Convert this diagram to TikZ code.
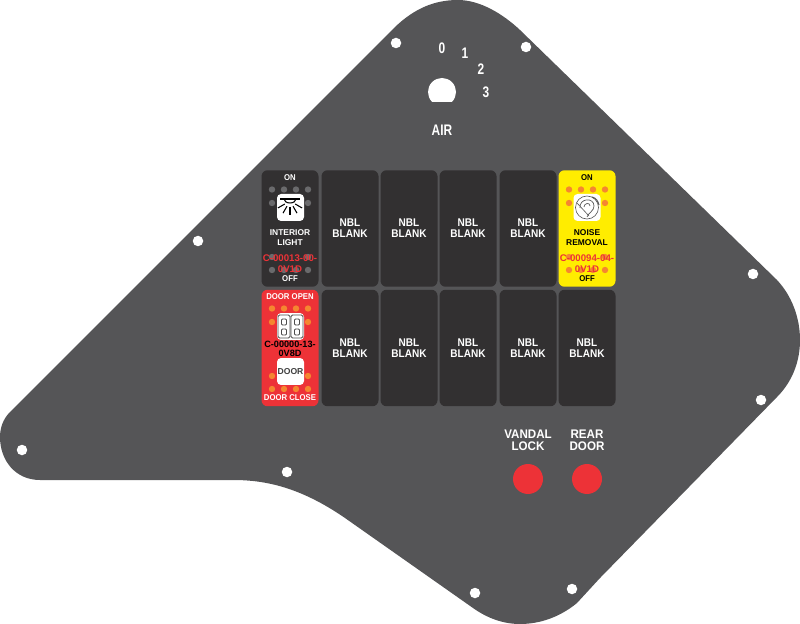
\documentclass[tikz,border=0pt]{standalone}
\usepackage{fontspec}
\setmainfont{Liberation Sans}
\usetikzlibrary{positioning}
\definecolor{panelColor}{RGB}{85,85,87}
\definecolor{blankColor}{RGB}{50,48,49}
\definecolor{lampGrey}{RGB}{106,106,108}
\definecolor{lampOrange}{RGB}{245,134,48}
\definecolor{switchRed}{RGB}{237,50,55}
\definecolor{switchYellow}{RGB}{255,237,0}
\tikzstyle{panelPlate} = [fill=panelColor, draw=none]
\tikzstyle{rockerStyle} = [rounded corners = .12cm, draw=none, minimum width=1.14cm, minimum height=2.33cm, inner sep=0pt]
\tikzstyle{blankRocker} = [rockerStyle, fill=blankColor]
\tikzstyle{labelText} = [font=\bfseries\fontsize{6.35}{6.2}\selectfont, align=center, text=white, inner sep=0pt, xscale=.9, transform shape]
\tikzstyle{buttonText} = [font=\bfseries\fontsize{7.1}{6.8}\selectfont, align=center, text=white, inner sep=0pt, xscale=.93, transform shape]
\tikzstyle{smallText} = [font=\bfseries\fontsize{4.8}{5.7}\selectfont, align=center, inner sep=0pt, xscale=.92, transform shape]
\tikzstyle{nameText} = [font=\bfseries\fontsize{4.8}{5.7}\selectfont, align=center, inner sep=0pt]
\tikzstyle{codeText} = [font=\bfseries\fontsize{5.5}{6.1}\selectfont, align=center, inner sep=0pt]
\tikzstyle{dialText} = [font=\bfseries\fontsize{8.7}{9}\selectfont, text=white, inner sep=0pt, xscale=.78, transform shape]
\tikzstyle{iconBox} = [fill=white, rounded corners = .08cm, draw=none, inner sep=0pt, minimum size=.54cm]
\newcommand{\screwHole}[3]{\node [circle, fill=white, minimum size=.21cm, inner sep=0pt] (#1) at (#2,#3) {};}
\newcommand{\lamp}[3]{\fill [#3] (#1,#2) circle (3.2);}
\newcommand{\blankAt}[3]{\node [blankRocker] (#1) at (#2,#3) {}; \node [labelText] (#1Text) at (#1) {NBL\\BLANK};}
\newcommand{\pushButton}[3]{\node [circle, fill=switchRed, minimum size=.6cm, inner sep=0pt] (#1) at (#2,#3) {};}
\newcommand{\lampRows}[3]{
  \foreach \lampx in {-18,-6,6,18} {
    \lamp{#1 + \lampx}{#2 - 39.5}{#3}
    \lamp{#1 + \lampx}{#2 + 41}{#3}
  }
  \foreach \lampx in {-18,18} {
    \lamp{#1 + \lampx}{#2 - 26}{#3}
    \lamp{#1 + \lampx}{#2 + 28}{#3}
  }
}
\begin{document}
\begin{tikzpicture}[x=.02cm, y=-.02cm]
  \useasboundingbox (0,0) rectangle (800,624);
  % panel outline
  \fill [panelPlate] (395,27) .. controls (415,8) and (435,0) .. (458,0)
    .. controls (480,0) and (503,14) .. (520,30)
    -- (777,280) .. controls (792,296) and (800,318) .. (800,340)
    .. controls (800,362) and (792,382) .. (777,397)
    -- (600,578) -- (577,603) .. controls (560,617) and (540,624) .. (520,624)
    .. controls (503,624) and (487,618) .. (473,608)
    -- (345,518) .. controls (300,487) and (265,480) .. (233,480)
    -- (40,480) .. controls (15,480) and (0,460) .. (0,437)
    .. controls (0,428) and (3,419) .. (10,412) -- cycle;
  % screws
  \screwHole{screwA}{396}{43}
  \screwHole{screwB}{526}{47}
  \screwHole{screwC}{198}{241}
  \screwHole{screwD}{753}{274}
  \screwHole{screwE}{761}{400}
  \screwHole{screwF}{22}{450}
  \screwHole{screwG}{287}{472}
  \screwHole{screwH}{475}{593}
  \screwHole{screwI}{572}{589}
  % air dial
  \fill [white] (432.1,101.9) arc (135:405:14) -- cycle;
  \node [dialText] (dialZero) at (442,48) {0};
  \node [dialText] (dialOne) at (465,53) {1};
  \node [dialText] (dialTwo) at (481,69) {2};
  \node [dialText] (dialThree) at (486,92) {3};
  \node [dialText] (dialAir) at (442,130) {AIR};
  % blank rockers
  \foreach \row/\rowy in {Top/228.5, Low/348} {
    \foreach \col/\colx in {A/350, B/409, C/468, D/528} {
      \blankAt{blank\row\col}{\colx}{\rowy}
    }
  }
  \blankAt{blankLowE}{587}{348}
  % interior light
  \node [blankRocker] (lightRocker) at (290,228.5) {};
  \lampRows{290}{229}{lampGrey}
  \node [smallText, text=white] (lightOn) at (290,178) {ON};
  \node [iconBox] (lightIcon) at (290.5,207.5) {};
  \draw [black, line width=.6pt] (280,199) -- (300,199);
  \draw [black, line width=.6pt] (284,199) arc (180:0:6 and 4);
  \foreach \rayAngle in {30,60,90,120,150} {
    \draw [black, line width=.6pt] (290,201) ++(\rayAngle:6) -- ++(\rayAngle:8);
  }
  \node [nameText, text=white] (lightName) at (290,238) {INTERIOR\\LIGHT};
  \node [smallText, text=white] (lightOff) at (290,279) {OFF};
  \node [codeText, text=switchRed] (lightCode) at (290,263.5) {C-00013-00-\\0V1D};
  % door switch
  \node [rockerStyle, fill=switchRed] (doorRocker) at (290,348) {};
  \lampRows{290}{348}{lampOrange}
  \node [smallText, text=white] (doorOpen) at (290,297) {DOOR OPEN};
  \node [iconBox] (doorIconTop) at (290.5,326.5) {};
  \foreach \doorx in {284,297} {
    \draw [black!70, line width=.5pt, rounded corners=.03cm] (\doorx - 6,315) rectangle (\doorx + 6,338);
    \draw [black!70, line width=.5pt, rounded corners=.02cm] (\doorx - 2.5,319) rectangle (\doorx + 2.5,325);
    \draw [black!70, line width=.5pt, rounded corners=.02cm] (\doorx - 2.5,329) rectangle (\doorx + 2.5,335);
  }
  \node [codeText, text=black, font=\bfseries\fontsize{5.2}{5.4}\selectfont] (doorCode) at (290,349) {C-00000-13-\\0V8D};
  \node [iconBox] (doorIconLow) at (290.5,371.5) {};
  \node [nameText, text=black!75, font=\bfseries\fontsize{4.9}{5}\selectfont] (doorWord) at (doorIconLow) {DOOR};
  \node [smallText, text=white] (doorClose) at (290,398) {DOOR CLOSE};
  % noise removal
  \node [rockerStyle, fill=switchYellow] (noiseRocker) at (587,228.5) {};
  \lampRows{587}{229}{lampOrange}
  \node [smallText, text=black] (noiseOn) at (587,178) {ON};
  \node [iconBox] (noiseIcon) at (587,207.5) {};
  \draw [black!65, line width=.35pt] (587,207.5) circle (11.5);
  \draw [black!65, line width=.4pt] (580,208) .. controls (579,198) and (594,197) .. (594,206) .. controls (594,211) and (589,212) .. (587,217);
  \draw [black!65, line width=.4pt] (584,207) .. controls (584,203) and (590,202) .. (590,206);
  \draw [black!65, line width=.35pt] (577,203) -- (589,216);
  \draw [black!65, line width=.6pt] (592,197) .. controls (596,198) and (598,201) .. (599,205);
  \node [nameText, text=black] (noiseName) at (587,238) {NOISE\\REMOVAL};
  \node [smallText, text=black] (noiseOff) at (587,279) {OFF};
  \node [codeText, text=switchRed] (noiseCode) at (587,263.5) {C-00094-04-\\0V1D};
  % buttons
  \pushButton{vandalButton}{528}{479}
  \pushButton{rearButton}{587}{479}
  \node [buttonText] (vandalText) at (528,440) {VANDAL\\LOCK};
  \node [buttonText] (rearText) at (587,440) {REAR\\DOOR};
\end{tikzpicture}
\end{document}
